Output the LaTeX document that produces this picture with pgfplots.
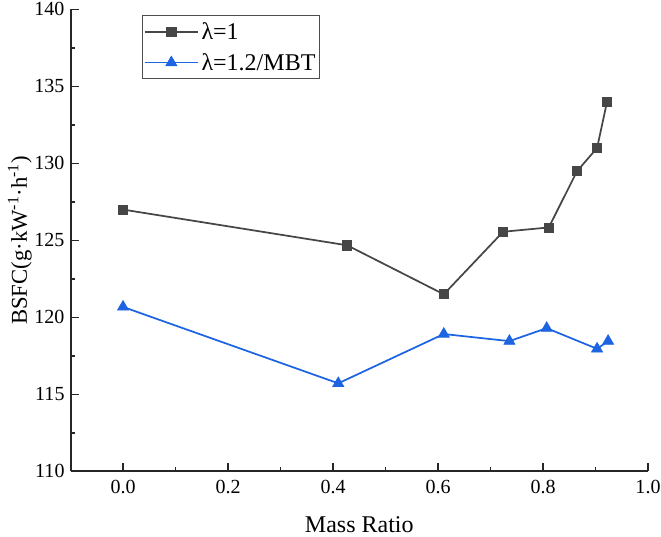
\documentclass[border=0pt]{standalone}
\usepackage{pgfplots}
\pgfplotsset{compat=1.18}
\usepackage{fontspec}
\setmainfont{Liberation Serif}
\definecolor{cblack}{RGB}{70,70,70}
\definecolor{cblue}{RGB}{28,100,226}
\begin{document}
\begin{tikzpicture}
\useasboundingbox (-52.9pt,-48.5pt) rectangle (442.75pt,353.5pt);
\begin{axis}[
  at={(0,0)}, anchor=south west,
  scale only axis, width=433pt, height=346.5pt,
  xmin=-0.1, xmax=1.0, ymin=110, ymax=140,
  enlargelimits=false,
  axis lines=left,
  axis line style={-, line width=1.5pt, black!85},
  tick align=inside,
  major tick length=6pt, minor tick length=3pt,
  every tick/.style={black!85, line width=1.2pt},
  xtick={0,0.2,0.4,0.6,0.8,1.0},
  minor x tick num=1,
  ytick={110,115,120,125,130,135,140},
  minor y tick num=1,
  /pgf/number format/assume math mode=true,
  xticklabel style={/pgf/number format/.cd, fixed, fixed zerofill, precision=1, /tikz/.cd, font=\fontsize{15}{17}\selectfont, yshift=-3pt},
  yticklabel style={font=\fontsize{15}{17}\selectfont, xshift=-1pt},
  xlabel={Mass Ratio},
  ylabel={BSFC(g·kW\textsuperscript{-1}·h\textsuperscript{-1})},
  x label style={at={(axis description cs:0.5,0)}, anchor=base, yshift=-45.5pt, font=\fontsize{18}{20}\selectfont},
  y label style={at={([xshift=-32.8pt]axis description cs:0,0.5)}, anchor=base, font=\fontsize{17}{19}\selectfont},
  legend style={at={(axis cs:0.036,139.63)}, anchor=north west, draw=black!70, line width=0.8pt,
    font=\fontsize{18}{18}\selectfont, inner xsep=1pt, inner ysep=3pt, row sep=5pt,
    nodes={inner sep=2pt}, cells={anchor=west}},
  legend image code/.code={\draw[mark repeat=2,mark phase=2,#1] plot coordinates {(0pt,0pt)(20pt,0pt)(40pt,0pt)};},
]
\addplot[color=cblack, line width=1.3pt, mark=square*, mark size=3.4pt, mark options={fill=cblack, draw=cblack, line width=0.5pt}]
  coordinates {(0,127.0) (0.427,124.68) (0.611,121.5) (0.724,125.56) (0.811,125.84) (0.865,129.5) (0.903,131.0) (0.922,134.0)};
\addlegendentry{λ=1}
\addplot[color=cblue, line width=1.3pt, mark=triangle*, mark size=4.8pt, mark options={fill=cblue, draw=cblue, line width=0.5pt}]
  coordinates {(0,120.68) (0.41,115.72) (0.611,118.92) (0.736,118.46) (0.807,119.3) (0.903,117.96) (0.924,118.46)};
\addlegendentry{λ=1.2/MBT}
\end{axis}
\end{tikzpicture}
\end{document}
